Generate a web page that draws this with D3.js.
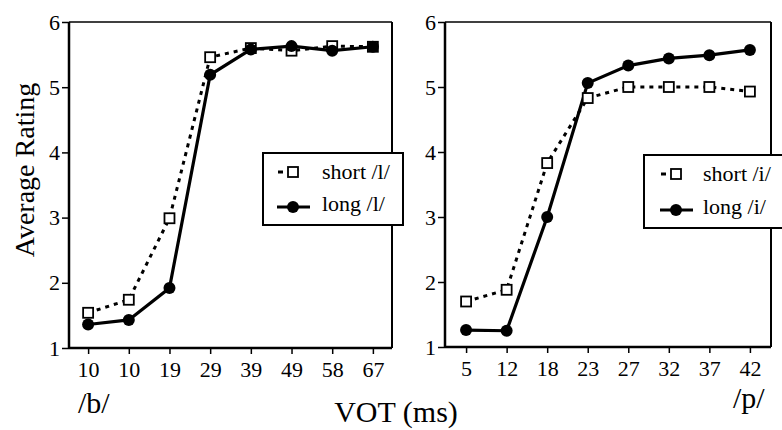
<!DOCTYPE html>
<html>
<head>
<meta charset="utf-8">
<script src="https://cdn.jsdelivr.net/npm/d3@7"></script>
<style>
  html, body { margin: 0; padding: 0; background: #fff; }
  svg { display: block; }
</style>
</head>
<body>
<svg id="chart" width="782" height="430"></svg>
<script>
// ---- data ----
const catsB = ["10", "10", "19", "29", "39", "49", "58", "67"];
const shortL = [1.54, 1.74, 2.99, 5.46, 5.60, 5.56, 5.63, 5.62];
const longL  = [1.36, 1.43, 1.92, 5.19, 5.58, 5.63, 5.56, 5.62];

const catsP = ["5", "12", "18", "23", "27", "32", "37", "42"];
const shortI = [1.70, 1.88, 3.83, 4.83, 5.00, 5.00, 5.00, 4.93];
const longI  = [1.26, 1.25, 3.00, 5.06, 5.33, 5.44, 5.49, 5.57];

const yTicks = [1, 2, 3, 4, 5, 6];
const legendLeft = ["short /l/", "long /l/"];
const legendRight = ["short /i/", "long /i/"];

const svg = d3.select("#chart");
const FONT = "'Liberation Serif', 'Times New Roman', Times, Tinos, 'Nimbus Roman', 'DejaVu Serif', serif";

function panel(cfg) {
  const g = svg.append("g");
  const x = d3.scalePoint().domain(d3.range(cfg.cats.length))
    .range([cfg.x0, cfg.x1]).padding(cfg.pad);
  const y = d3.scaleLinear().domain([1, 6]).range([cfg.y0, cfg.y1]);

  // frame
  g.append("line").attr("x1", cfg.x0).attr("x2", cfg.x1).attr("y1", cfg.y1).attr("y2", cfg.y1)
    .attr("stroke", "#000").attr("stroke-width", 1.5);
  g.append("line").attr("x1", cfg.x1).attr("x2", cfg.x1).attr("y1", cfg.y1).attr("y2", cfg.y0)
    .attr("stroke", "#000").attr("stroke-width", 2);

  // axes
  const xa = g.append("g").attr("transform", `translate(0,${cfg.y0})`)
    .call(d3.axisBottom(x).tickSize(6).tickPadding(7).tickFormat(i => cfg.cats[i]));
  xa.attr("font-family", FONT).attr("font-size", 22);
  xa.select(".domain").attr("d", `M${cfg.x0},0H${cfg.x1}`).attr("stroke-width", 2.5);
  xa.selectAll(".tick line").attr("stroke-width", 1.5);
  xa.selectAll("text").attr("font-family", FONT).attr("font-size", 22);

  const ya = g.append("g").attr("transform", `translate(${cfg.x0},0)`)
    .call(d3.axisLeft(y).tickValues(yTicks).tickSize(7).tickPadding(2).tickFormat(d3.format("d")));
  ya.attr("font-family", FONT).attr("font-size", 22);
  ya.select(".domain").attr("d", `M0,${cfg.y0}V${cfg.y1}`).attr("stroke-width", 2.5);
  ya.selectAll(".tick line").attr("stroke-width", 1.5);
  ya.selectAll("text").attr("font-family", FONT).attr("font-size", 22);

  // legend box
  const L = cfg.legend;
  g.append("rect").attr("x", L.x).attr("y", L.y).attr("width", L.w).attr("height", L.h)
    .attr("fill", "#fff").attr("stroke", "#000").attr("stroke-width", 2);

  // series
  const line = d3.line().x((d, i) => x(i)).y(d => y(d));
  g.append("path").datum(cfg.short).attr("d", line)
    .attr("fill", "none").attr("stroke", "#000").attr("stroke-width", 3)
    .attr("stroke-dasharray", "4,5");
  g.append("path").datum(cfg.long).attr("d", line)
    .attr("fill", "none").attr("stroke", "#000").attr("stroke-width", 3.2);
  g.selectAll(".sq").data(cfg.short).join("rect").attr("class", "sq")
    .attr("x", (d, i) => x(i) - 5).attr("y", d => y(d) - 5)
    .attr("width", 10).attr("height", 10)
    .attr("fill", "#fff").attr("stroke", "#000").attr("stroke-width", 1.8);
  g.selectAll(".dot").data(cfg.long).join("circle").attr("class", "dot")
    .attr("cx", (d, i) => x(i)).attr("cy", d => y(d)).attr("r", 6)
    .attr("fill", "#000");

  // legend entries
  g.append("line").attr("x1", L.sx - 15).attr("x2", L.sx - 10).attr("y1", L.r1).attr("y2", L.r1)
    .attr("stroke", "#000").attr("stroke-width", 3);
  g.append("rect").attr("x", L.sx - 5).attr("y", L.r1 - 5).attr("width", 10).attr("height", 10)
    .attr("fill", "#fff").attr("stroke", "#000").attr("stroke-width", 1.8);
  g.append("line").attr("x1", L.sx - 16).attr("x2", L.sx + 17).attr("y1", L.r2).attr("y2", L.r2)
    .attr("stroke", "#000").attr("stroke-width", 3.2);
  g.append("circle").attr("cx", L.sx).attr("cy", L.r2).attr("r", 6).attr("fill", "#000");
  g.append("text").attr("x", L.tx).attr("y", L.r1 + 7)
    .attr("font-family", FONT).attr("font-size", 22).text(L.labels[0]);
  g.append("text").attr("x", L.tx).attr("y", L.r2 + 4)
    .attr("font-family", FONT).attr("font-size", 22).text(L.labels[1]);
}

panel({
  cats: catsB, short: shortL, long: longL,
  x0: 69, x1: 392, pad: 0.47, y0: 348, y1: 22,
  legend: { x: 263, y: 153, w: 140, h: 72, sx: 293, r1: 172, r2: 207, tx: 322, labels: legendLeft }
});
panel({
  cats: catsP, short: shortI, long: longI,
  x0: 445, x1: 771, pad: 0.52, y0: 347, y1: 22,
  legend: { x: 644, y: 155, w: 160, h: 73, sx: 676, r1: 174, r2: 210, tx: 703, labels: legendRight }
});

// titles
svg.append("text").attr("transform", "translate(34,170) rotate(-90)")
  .attr("text-anchor", "middle").attr("font-family", FONT).attr("font-size", 28).text("Average Rating");
svg.append("text").attr("x", 396).attr("y", 422)
  .attr("text-anchor", "middle").attr("font-family", FONT).attr("font-size", 30).text("VOT (ms)");
svg.append("text").attr("x", 78).attr("y", 413).attr("font-family", FONT).attr("font-size", 30).text("/b/");
svg.append("text").attr("x", 733).attr("y", 408).attr("font-family", FONT).attr("font-size", 30).text("/p/");
</script>
</body>
</html>
